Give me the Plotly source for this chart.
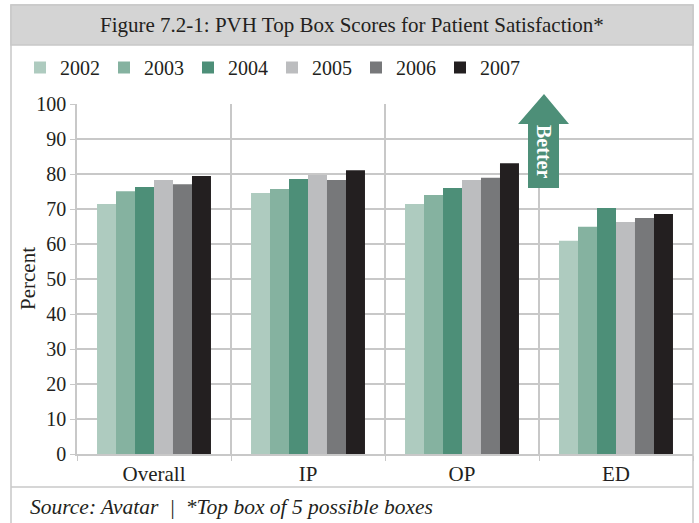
import plotly.graph_objects as go

categories = ["Overall", "IP", "OP", "ED"]
years = ["2002", "2003", "2004", "2005", "2006", "2007"]
values_2002 = [71.4, 74.6, 71.4, 60.9]
values_2003 = [75.1, 75.7, 74.0, 64.9]
values_2004 = [76.3, 78.6, 76.0, 70.3]
values_2005 = [78.3, 79.7, 78.3, 66.3]
values_2006 = [77.1, 78.3, 78.9, 67.4]
values_2007 = [79.4, 81.1, 83.1, 68.6]
series = [values_2002, values_2003, values_2004, values_2005, values_2006, values_2007]
colors = ["#aecbbf", "#85b2a0", "#4d8f78", "#bcbdbf", "#77787a", "#231f20"]

title_text = "Figure 7.2-1: PVH Top Box Scores for Patient Satisfaction*"
footer_text = "Source: Avatar  |  *Top box of 5 possible boxes"
y_ticks = list(range(0, 101, 10))

FONT = "Liberation Serif"
TXT = "#231f20"
GRID = "#c8c8c8"

fig = go.Figure()
for yr, vals, col in zip(years, series, colors):
    fig.add_trace(go.Bar(name=yr, x=categories, y=vals, marker=dict(color=col, line=dict(width=0))))

W, H = 699, 523
L, R, T, B = 77, 6, 104, 69
pw = W - L - R
ph = H - T - B

def px(x):
    return (x - L) / pw

def py(y):
    return (H - B - y) / ph

shapes = []
# outer frame
shapes.append(dict(type="rect", xref="paper", yref="paper", x0=px(11), x1=px(693), y0=py(530), y1=py(5),
                   line=dict(color=GRID, width=1.5), fillcolor="rgba(0,0,0,0)", layer="below"))
# title band
shapes.append(dict(type="rect", xref="paper", yref="paper", x0=px(11), x1=px(693), y0=py(45), y1=py(5),
                   line=dict(color=GRID, width=1.5), fillcolor="#d4d4d4", layer="below"))
# footer separator
shapes.append(dict(type="line", xref="paper", yref="paper", x0=px(11), x1=px(693), y0=py(487), y1=py(487),
                   line=dict(color=GRID, width=1.5)))
# Better arrow
ax = [518, 528, 544, 559, 569]
ay_tip, ay_base, ay_bot = 94, 124, 188
path = (f"M {px(ax[1])},{py(ay_bot)} L {px(ax[1])},{py(ay_base)} L {px(ax[0])},{py(ay_base)} "
        f"L {px(ax[2])},{py(ay_tip)} L {px(ax[4])},{py(ay_base)} L {px(ax[3])},{py(ay_base)} "
        f"L {px(ax[3])},{py(ay_bot)} Z")
shapes.append(dict(type="path", xref="paper", yref="paper", path=path, fillcolor="#4d8f78",
                   line=dict(width=0), layer="above"))

annotations = [
    dict(text=title_text, xref="paper", yref="paper", x=px(352), y=py(25), showarrow=False,
         xanchor="center", yanchor="middle", font=dict(family=FONT, size=21, color=TXT)),
    dict(text="<i>" + footer_text + "</i>", xref="paper", yref="paper", x=px(28), y=py(507), showarrow=False,
         xanchor="left", yanchor="middle", font=dict(family=FONT, size=21.5, color=TXT)),
    dict(text="<b>Better</b>", xref="paper", yref="paper", x=px(544), y=py(151), showarrow=False,
         textangle=90, xanchor="center", yanchor="middle", font=dict(family=FONT, size=20, color="white")),
    dict(text="Percent", xref="paper", yref="paper", x=px(28), y=py(279), showarrow=False,
         textangle=-90, xanchor="center", yanchor="middle", font=dict(family=FONT, size=21, color=TXT)),
]

fig.update_layout(
    width=W, height=H,
    margin=dict(l=L, r=R, t=T, b=B, pad=0),
    paper_bgcolor="white", plot_bgcolor="white",
    barmode="group", bargap=0.26, bargroupgap=0,
    font=dict(family=FONT, color=TXT),
    shapes=shapes, annotations=annotations,
    legend=dict(orientation="h", x=px(20), y=py(48), xanchor="left", yanchor="top",
                font=dict(family=FONT, size=20, color=TXT), bgcolor="rgba(0,0,0,0)",
                entrywidth=39, entrywidthmode="pixels", itemsizing="constant",
                traceorder="normal"),
    xaxis=dict(type="category", tickson="boundaries", showgrid=True, gridcolor=GRID, gridwidth=1.5,
               showline=True, linecolor=GRID, linewidth=1.5, ticks="outside", ticklen=5, tickcolor=GRID,
               tickfont=dict(family=FONT, size=21, color=TXT), fixedrange=True),
    yaxis=dict(range=[0, 100], tickvals=y_ticks, showgrid=True, gridcolor=GRID, gridwidth=1.5,
               showline=True, linecolor=GRID, linewidth=1.5, ticks="outside", ticklen=5, tickcolor=GRID,
               tickfont=dict(family=FONT, size=20, color=TXT), zeroline=False),
)

fig.write_html("out.html", config={"displayModeBar": False},
               post_script="document.body.style.margin='0';")
